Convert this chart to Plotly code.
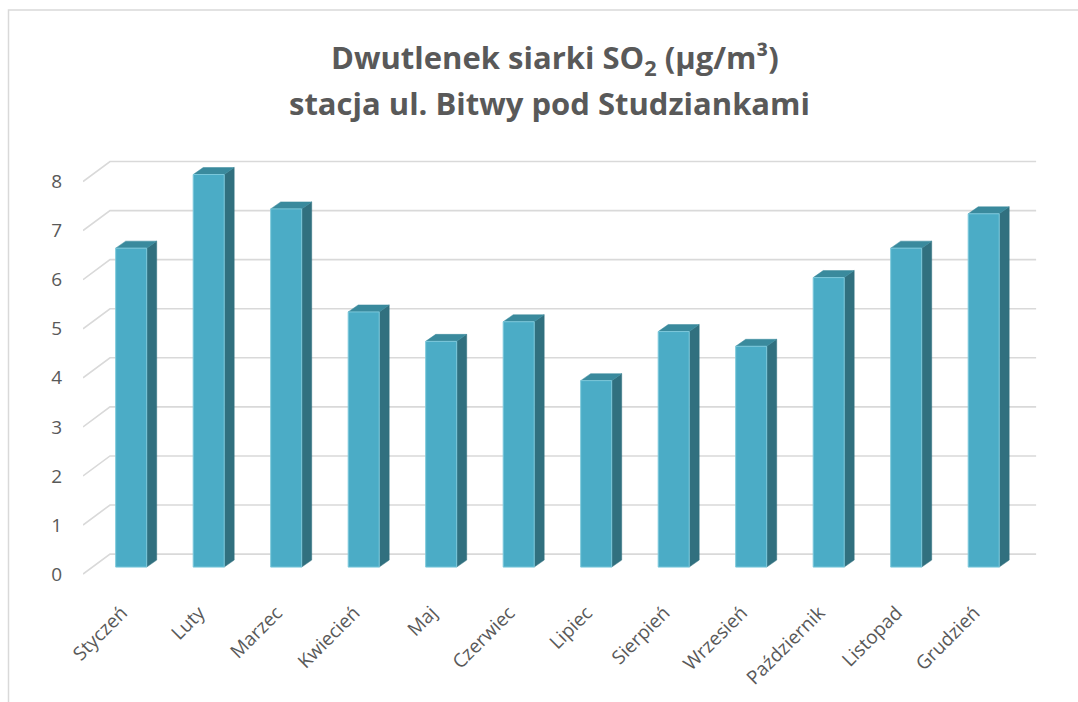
import plotly.graph_objects as go

# ---- data ----
months = ["Styczeń", "Luty", "Marzec", "Kwiecień", "Maj", "Czerwiec",
          "Lipiec", "Sierpień", "Wrzesień", "Październik", "Listopad", "Grudzień"]
so2 = [6.5, 8.0, 7.3, 5.2, 4.6, 5.0, 3.8, 4.8, 4.5, 5.9, 6.5, 7.2]
y_ticks = [0, 1, 2, 3, 4, 5, 6, 7, 8]
title_line1 = "Dwutlenek siarki SO<sub>2</sub> (µg/m³)"
title_line2 = "stacja ul. Bitwy pod Studziankami"

# ---- pseudo-3D geometry (in axis units) ----
W, H = 1078, 702
CAT_PX = 77.5      # px per category
Y_PX = 49.06       # px per unit
FLOOR_DX = 27 / CAT_PX
FLOOR_DY = 20 / Y_PX
BAR_OFF_X = 0.35 * FLOOR_DX
BAR_OFF_Y = 0.35 * FLOOR_DY
BAR_W = 31 / CAT_PX
BAR_DX = 10 / CAT_PX
BAR_DY = 7 / Y_PX

n = len(months)
x0, x1 = -0.5, n - 0.5 + FLOOR_DX
y0, y1 = -0.1, 8.5

FRONT = "#4BACC6"
SIDE = "#31707F"
TOP = "#3A8A9D"
GRID = "#D9D9D9"
TEXT = "#595959"

fig = go.Figure()

# back-wall gridlines + slanted left-wall lines
gx, gy = [], []
for v in y_ticks:
    gx += [-0.5, -0.5 + FLOOR_DX, n - 0.5 + FLOOR_DX - 0.05, None]
    gy += [v, v + FLOOR_DY, v + FLOOR_DY, None]
fig.add_trace(go.Scatter(x=gx, y=gy, mode="lines",
                         line=dict(color=GRID, width=1.6),
                         hoverinfo="skip", showlegend=False))

fx, fy, sx, sy, tx, ty = [], [], [], [], [], []
for i, v in enumerate(so2):
    c = i + BAR_OFF_X
    xl, xr = c - BAR_W / 2, c + BAR_W / 2
    b = BAR_OFF_Y
    t = b + v
    fx += [xl, xr, xr, xl, xl, None]
    fy += [b, b, t, t, b, None]
    sx += [xr, xr + BAR_DX, xr + BAR_DX, xr, xr, None]
    sy += [b, b + BAR_DY, t + BAR_DY, t, b, None]
    tx += [xl, xr, xr + BAR_DX, xl + BAR_DX, xl, None]
    ty += [t, t, t + BAR_DY, t + BAR_DY, t, None]

fig.add_trace(go.Scatter(x=sx, y=sy, fill="toself", mode="lines",
                         fillcolor=SIDE, line=dict(color=SIDE, width=0.5),
                         hoverinfo="skip", showlegend=False))
fig.add_trace(go.Scatter(x=tx, y=ty, fill="toself", mode="lines",
                         fillcolor=TOP, line=dict(color=TOP, width=0.5),
                         hoverinfo="skip", showlegend=False))
fig.add_trace(go.Scatter(x=fx, y=fy, fill="toself", mode="lines",
                         fillcolor=FRONT, line=dict(color="#7CC8DB", width=1),
                         hoverinfo="skip", showlegend=False))
# hover points
fig.add_trace(go.Scatter(x=[i + BAR_OFF_X for i in range(n)],
                         y=[BAR_OFF_Y + v for v in so2], mode="markers",
                         marker=dict(size=1, color="rgba(0,0,0,0)"),
                         text=months, customdata=so2,
                         hovertemplate="%{text}: %{customdata}<extra></extra>",
                         showlegend=False))

left, right = 83, 38
top = 574.5 - y1 * Y_PX
bottom = H - (574.5 - y0 * Y_PX)
pw = W - left - right
ph = H - top - bottom

fig.update_layout(
    width=W, height=H, autosize=False,
    paper_bgcolor="white", plot_bgcolor="white",
    margin=dict(l=left, r=right, t=top, b=bottom, pad=0),
    font=dict(family="Open Sans, sans-serif", color=TEXT),
    showlegend=False,
    xaxis=dict(range=[x0, x1], tickmode="array", tickvals=list(range(n)),
               ticktext=months, tickangle=-45, showgrid=False, zeroline=False,
               showline=False, ticks="", tickfont=dict(size=19, color=TEXT),
               ticklabelstandoff=18, fixedrange=True),
    yaxis=dict(range=[y0, y1], tickmode="array", tickvals=y_ticks,
               showgrid=False, zeroline=False, showline=False, ticks="",
               tickfont=dict(size=19, color=TEXT), ticklabelstandoff=20,
               fixedrange=True),
    shapes=[dict(type="rect", xref="paper", yref="paper",
                 x0=-(left - 8.5) / pw,
                 x1=(W + 20 - left) / pw,
                 y0=-(bottom + 20) / ph,
                 y1=1 + (top - 10.5) / ph,
                 line=dict(color="#D9D9D9", width=1.5), layer="below")],
    annotations=[
        dict(text="<b>" + title_line1 + "</b>", xref="paper", yref="paper",
             x=(555 - left) / pw,
             y=1 + (top - 60) / ph, xanchor="center",
             yanchor="middle", showarrow=False,
             font=dict(size=31, color=TEXT, family="Open Sans, sans-serif")),
        dict(text="<b>" + title_line2 + "</b>", xref="paper", yref="paper",
             x=(549 - left) / pw,
             y=1 + (top - 104) / ph, xanchor="center",
             yanchor="middle", showarrow=False,
             font=dict(size=31, color=TEXT, family="Open Sans, sans-serif")),
    ],
)

fig.write_html("out.html", config={"displayModeBar": False},
               post_script="document.body.style.margin='0';")
